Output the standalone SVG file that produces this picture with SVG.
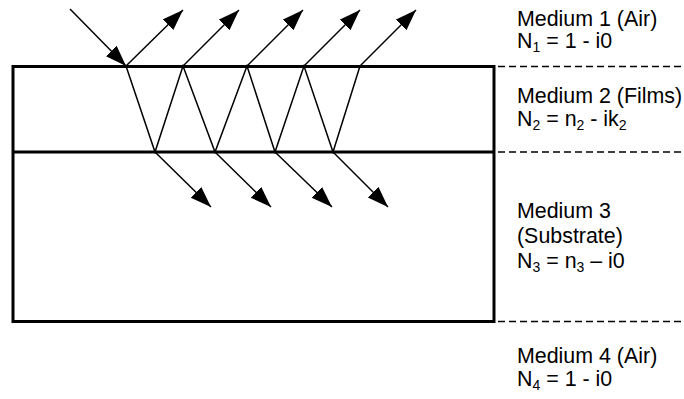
<svg xmlns="http://www.w3.org/2000/svg" width="684" height="399" viewBox="0 0 684 399">
<style>
.box{fill:none;stroke:#000;stroke-width:3}
.ray{fill:none;stroke:#000;stroke-width:1.5}
.dash{fill:none;stroke:#000;stroke-width:1.5;stroke-dasharray:7 4}
text{font-family:"Liberation Sans",Arial,sans-serif;font-size:21.4px;fill:#000}
.sub{font-size:14px}
</style>
<defs>
<marker id="ah" markerUnits="userSpaceOnUse" markerWidth="22" markerHeight="16" refX="21" refY="7.5" orient="auto">
<path d="M0,0 L21,7.5 L0,15 z" fill="#000"/>
</marker>
</defs>
<g id="layers">
<rect class="box" x="13" y="66.5" width="481" height="255"/>
<line class="box" x1="13" y1="152" x2="494" y2="152"/>
</g>
<g id="boundaries">
<line class="dash" x1="498" y1="66.5" x2="684" y2="66.5"/>
<line class="dash" x1="498" y1="152" x2="684" y2="152"/>
<line class="dash" x1="498" y1="321.5" x2="684" y2="321.5"/>
</g>
<g id="connectors">
<line class="ray" x1="70" y1="9" x2="126" y2="66" marker-end="url(#ah)"/>
<line class="ray" x1="126" y1="66" x2="183" y2="10" marker-end="url(#ah)"/>
<line class="ray" x1="183" y1="66" x2="239" y2="10" marker-end="url(#ah)"/>
<line class="ray" x1="247" y1="66" x2="303" y2="10" marker-end="url(#ah)"/>
<line class="ray" x1="304" y1="66" x2="360" y2="10" marker-end="url(#ah)"/>
<line class="ray" x1="360" y1="66" x2="416" y2="10" marker-end="url(#ah)"/>
<polyline class="ray" points="126,66 155,152 183,66 215,152 247,66 275,152 304,66 333,152 360,66"/>
<line class="ray" x1="155" y1="152" x2="211" y2="207" marker-end="url(#ah)"/>
<line class="ray" x1="215" y1="152" x2="271" y2="207" marker-end="url(#ah)"/>
<line class="ray" x1="275" y1="152" x2="332" y2="207" marker-end="url(#ah)"/>
<line class="ray" x1="333" y1="152" x2="388" y2="207" marker-end="url(#ah)"/>
</g>
<g id="medium1">
<text x="517" y="26">Medium 1 (Air)</text>
<text x="517" y="48">N<tspan class="sub" dy="4">1</tspan><tspan dy="-4"> = 1 - i0</tspan></text>
</g>
<g id="medium2">
<text x="517" y="103">Medium 2 (Films)</text>
<text x="517" y="126">N<tspan class="sub" dy="4">2</tspan><tspan dy="-4"> = n</tspan><tspan class="sub" dy="4">2</tspan><tspan dy="-4"> - ik</tspan><tspan class="sub" dy="4">2</tspan></text>
</g>
<g id="medium3">
<text x="517" y="218">Medium 3</text>
<text x="517" y="243">(Substrate)</text>
<text x="517" y="268">N<tspan class="sub" dy="4">3</tspan><tspan dy="-4"> = n</tspan><tspan class="sub" dy="4">3</tspan><tspan dy="-4"> – i0</tspan></text>
</g>
<g id="medium4">
<text x="517" y="363">Medium 4 (Air)</text>
<text x="517" y="386">N<tspan class="sub" dy="4">4</tspan><tspan dy="-4"> = 1 - i0</tspan></text>
</g>
</svg>
